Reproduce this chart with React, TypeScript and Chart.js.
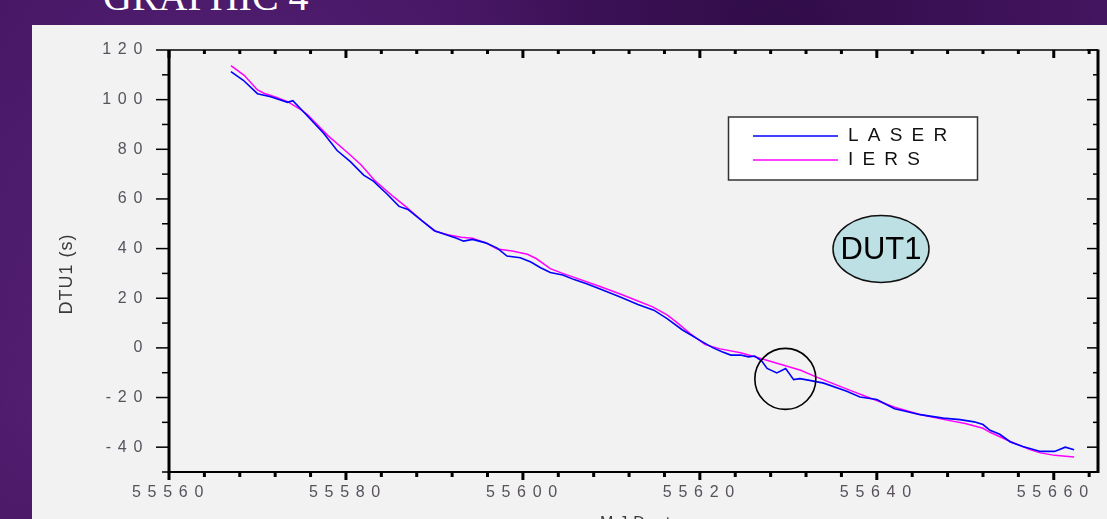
import React, { useEffect, useRef } from "react";
import { Chart, registerables } from "chart.js";

Chart.register(...registerables);

// ---- data ----
const laserMjd = [
  55567.0, 55568.4, 55570.0, 55571.5, 55573.4, 55574.0, 55575.2, 55576.6, 55577.5, 55579.0,
  55580.5, 55582.0, 55583.1, 55584.7, 55586.0, 55587.0, 55588.5, 55590.0, 55591.5, 55592.5,
  55593.3, 55594.3, 55595.8, 55597.1, 55598.2, 55599.7, 55600.9, 55602.0, 55603.1, 55604.5,
  55605.8, 55607.2, 55608.8, 55611.0, 55613.0, 55614.8, 55616.3, 55618.0, 55620.2, 55621.5,
  55622.5, 55623.5, 55624.6, 55625.5, 55626.2, 55627.0, 55627.6, 55628.7, 55629.7, 55630.6,
  55631.3, 55632.4, 55634.0, 55636.6, 55638.1, 55640.0, 55642.0, 55643.0, 55644.9, 55647.5,
  55649.4, 55651.0, 55652.0, 55652.8, 55653.9, 55655.1, 55656.5, 55658.5, 55660.1, 55661.3,
  55662.3,
];
const laserDut1 = [
  111.3, 107.8, 102.4, 101.2, 98.9, 99.6, 95.1, 89.8, 86.4, 79.5,
  75.0, 69.6, 67.2, 61.8, 57.0, 55.8, 51.5, 47.2, 45.4, 44.2,
  43.0, 43.7, 42.3, 40.2, 37.0, 36.3, 34.6, 32.3, 30.4, 29.4,
  27.5, 25.8, 23.6, 20.5, 17.5, 15.2, 11.8, 7.3, 2.6, 0.0,
  -1.6, -2.9, -2.9, -3.6, -3.3, -5.3, -8.3, -10.1, -8.3, -12.8,
  -12.4, -13.1, -14.2, -17.5, -19.8, -20.8, -24.5, -25.3, -26.9, -28.3,
  -28.9, -29.8, -30.9, -33.2, -34.8, -37.9, -39.7, -41.7, -41.7, -40.0,
  -41.0,
];
const iersMjd = [
  55567.0, 55568.5, 55570.0, 55570.8, 55572.1, 55573.4, 55574.9, 55575.7, 55577.9, 55580.2,
  55581.7, 55583.2, 55585.4, 55586.8, 55588.5, 55590.1, 55591.5, 55593.0, 55594.3, 55595.8,
  55597.1, 55598.8, 55600.5, 55601.5, 55603.1, 55604.5, 55605.8, 55608.8, 55611.0, 55613.0,
  55614.6, 55616.3, 55617.5, 55618.9, 55620.6, 55622.3, 55624.6, 55626.8, 55629.1, 55631.4,
  55633.0, 55634.7, 55637.0, 55639.3, 55642.1, 55644.9, 55647.5, 55650.0, 55652.0, 55652.8,
  55655.1, 55657.3, 55658.5, 55660.1, 55662.3,
];
const iersDut1 = [
  113.7, 109.8, 103.9, 102.5, 101.0, 99.2, 96.0, 93.8, 85.7, 78.6,
  73.8, 67.6, 60.8, 56.8, 51.5, 47.0, 45.6, 44.6, 44.2, 42.3,
  39.8, 39.0, 37.7, 36.0, 31.9, 30.0, 28.4, 24.6, 21.7, 18.9,
  16.6, 13.3, 10.0, 5.8, 1.3, -0.4, -2.0, -4.2, -6.6, -9.0,
  -11.5, -13.9, -17.1, -20.3, -24.0, -26.8, -28.8, -30.5, -32.4, -34.0,
  -37.7, -41.0, -42.3, -43.3, -44.0,
];

const seriesNames = ["LASER", "IERS"];
const seriesColors = ["#0000ff", "#ff00ff"];

const xMin = 55560;
const xMax = 55665;
const xMajorStep = 20;
const xMinorStep = 4;
const yMin = -50;
const yMax = 120;
const yMajorStep = 20;
const yMinorStep = 10;

const yTitle = "DTU1 (s)";
const xTitle = "MJDate";
const badgeText = "DUT1";
const pageTitle = "GRAPHIC 4";
// highlighted anomaly (data coordinates)
const markMjd = 55629.66;
const markDut1 = -12.5;

const SANS = '"Liberation Sans", Arial, sans-serif';
const TICK_COLOR = "#57525c";

const decorPlugin = {
  id: "decor",
  beforeDraw(chart: any) {
    (chart.ctx as any).letterSpacing = "6.7px";
  },
  afterDraw(chart: any) {
    const ctx = chart.ctx as CanvasRenderingContext2D & { letterSpacing: string };
    const { left, right, top, bottom } = chart.chartArea;
    const xs = chart.scales.x;
    const ys = chart.scales.y;
    ctx.save();
    ctx.letterSpacing = "0px";
    ctx.strokeStyle = "#000";
    ctx.lineCap = "butt";

    const seg = (x1: number, y1: number, x2: number, y2: number, w: number) => {
      ctx.lineWidth = w;
      ctx.beginPath();
      ctx.moveTo(x1, y1);
      ctx.lineTo(x2, y2);
      ctx.stroke();
    };

    // y ticks (left outward, right inward)
    for (let v = yMin; v <= yMax; v += yMinorStep) {
      const py = ys.getPixelForValue(v);
      const major = v % yMajorStep === 0;
      seg(left - (major ? 13 : 7), py, left, py, 1.5);
      seg(right - (major ? 11 : 5), py, right, py, 1.5);
    }
    // x ticks (bottom outward, top inward)
    for (let m = xMin; m <= xMax; m += xMinorStep) {
      const px = xs.getPixelForValue(m);
      const major = (m - xMin) % xMajorStep === 0;
      seg(px, bottom, px, bottom + (major ? 8 : 5), 3);
      seg(px, top, px, top + (major ? 8 : 4), 3);
    }
    // frame
    seg(left, top, left, bottom + 1, 3);
    seg(right, top - 0.5, right, bottom + 1, 3);
    seg(left - 1, bottom, right + 1, bottom, 2);
    seg(left, top, right, top, 1.5);

    // y axis title
    ctx.save();
    ctx.translate(35, 249);
    ctx.rotate(-Math.PI / 2);
    ctx.fillStyle = "#3a3a3a";
    ctx.font = `18px ${SANS}`;
    ctx.letterSpacing = "1px";
    ctx.textAlign = "center";
    ctx.textBaseline = "middle";
    ctx.fillText(yTitle, 0, 0);
    ctx.restore();

    // x axis title (mostly cut off at the bottom)
    ctx.fillStyle = "#3a3a3a";
    ctx.font = `16px ${SANS}`;
    ctx.letterSpacing = "6px";
    ctx.textAlign = "left";
    ctx.textBaseline = "alphabetic";
    ctx.fillText(xTitle, 568, 503);

    // legend box
    const lx = 696.5, ly = 92, lw = 249, lh = 63;
    ctx.fillStyle = "#ffffff";
    ctx.fillRect(lx, ly, lw, lh);
    ctx.strokeStyle = "#333";
    ctx.lineWidth = 1.5;
    ctx.strokeRect(lx, ly, lw, lh);
    const rows = [111, 135];
    ctx.font = `19px ${SANS}`;
    ctx.letterSpacing = "9.2px";
    ctx.textBaseline = "middle";
    seriesNames.forEach((name, i) => {
      ctx.strokeStyle = seriesColors[i];
      seg(721, rows[i], 806, rows[i], 1.3);
      ctx.fillStyle = "#111";
      ctx.fillText(name, 816, rows[i]);
    });

    // DUT1 badge
    ctx.beginPath();
    ctx.ellipse(849, 224, 48, 33.5, 0, 0, Math.PI * 2);
    ctx.fillStyle = "#bde0e4";
    ctx.fill();
    ctx.strokeStyle = "#111";
    ctx.lineWidth = 1.5;
    ctx.stroke();
    ctx.fillStyle = "#000";
    ctx.font = `31px ${SANS}`;
    ctx.letterSpacing = "0px";
    ctx.textAlign = "center";
    ctx.textBaseline = "middle";
    ctx.fillText(badgeText, 849, 225);

    // circled anomaly
    ctx.beginPath();
    ctx.arc(xs.getPixelForValue(markMjd), ys.getPixelForValue(markDut1), 30.5, 0, Math.PI * 2);
    ctx.strokeStyle = "#000";
    ctx.lineWidth = 1.6;
    ctx.stroke();

    ctx.restore();
  },
};

export default function App() {
  const canvasRef = useRef<HTMLCanvasElement | null>(null);

  useEffect(() => {
    const canvas = canvasRef.current;
    if (!canvas) return;
    const tickFont = { family: SANS, size: 16 };
    const chart = new Chart(canvas, {
      type: "line",
      data: {
        datasets: [
          {
            label: seriesNames[0],
            data: laserMjd.map((x, i) => ({ x, y: laserDut1[i] })),
            borderColor: seriesColors[0],
            borderWidth: 1.6,
            pointRadius: 0,
            tension: 0,
            fill: false,
          },
          {
            label: seriesNames[1],
            data: iersMjd.map((x, i) => ({ x, y: iersDut1[i] })),
            borderColor: seriesColors[1],
            borderWidth: 1.5,
            pointRadius: 0,
            tension: 0,
            fill: false,
          },
        ],
      },
      options: {
        animation: false,
        responsive: false,
        devicePixelRatio: 1,
        events: [],
        layout: { padding: { top: 25, right: 9, left: 0, bottom: 0 } },
        plugins: {
          legend: { display: false },
          tooltip: { enabled: false },
          title: { display: false },
        },
        scales: {
          x: {
            type: "linear",
            position: "bottom",
            min: xMin,
            max: xMax,
            grid: { display: false, drawTicks: false },
            border: { display: false },
            ticks: {
              stepSize: xMajorStep,
              includeBounds: false,
              autoSkip: false,
              maxRotation: 0,
              padding: 11,
              labelOffset: 2,
              color: TICK_COLOR,
              font: tickFont,
              callback: (v: any) => String(v),
            },
            afterFit: (s: any) => {
              s.height = 47;
              s.paddingLeft = 0;
              s.paddingRight = 0;
            },
          },
          y: {
            type: "linear",
            position: "left",
            min: yMin,
            max: yMax,
            grid: { display: false, drawTicks: false },
            border: { display: false },
            ticks: {
              stepSize: yMajorStep,
              includeBounds: false,
              autoSkip: false,
              padding: 20,
              color: TICK_COLOR,
              font: tickFont,
              callback: (v: any) => String(v),
            },
            afterFit: (s: any) => {
              s.width = 137;
              s.paddingTop = 0;
              s.paddingBottom = 0;
            },
          },
        },
      } as any,
      plugins: [decorPlugin],
    });
    return () => chart.destroy();
  }, []);

  return (
    <div
      style={{
        position: "fixed",
        left: 0,
        top: 0,
        width: 1107,
        height: 519,
        overflow: "hidden",
        backgroundColor: "#43145f",
        backgroundImage:
          "radial-gradient(circle at 20% 30%, rgba(95,40,130,0.6) 0, rgba(0,0,0,0) 40%), radial-gradient(circle at 70% 5%, rgba(30,5,50,0.5) 0, rgba(0,0,0,0) 35%), radial-gradient(circle at 5% 80%, rgba(90,35,120,0.6) 0, rgba(0,0,0,0) 30%)",
      }}
    >
      <div
        style={{
          position: "absolute",
          left: 103,
          top: -23,
          fontFamily: '"Liberation Serif", "Times New Roman", serif',
          fontSize: 40,
          lineHeight: "40px",
          color: "#ffffff",
          whiteSpace: "nowrap",
        }}
      >
        {pageTitle}
      </div>
      <div
        style={{
          position: "absolute",
          left: 32,
          top: 25,
          width: 1075,
          height: 494,
          background: "#f2f2f2",
        }}
      >
        <canvas ref={canvasRef} width={1075} height={494} style={{ display: "block" }} />
      </div>
    </div>
  );
}
